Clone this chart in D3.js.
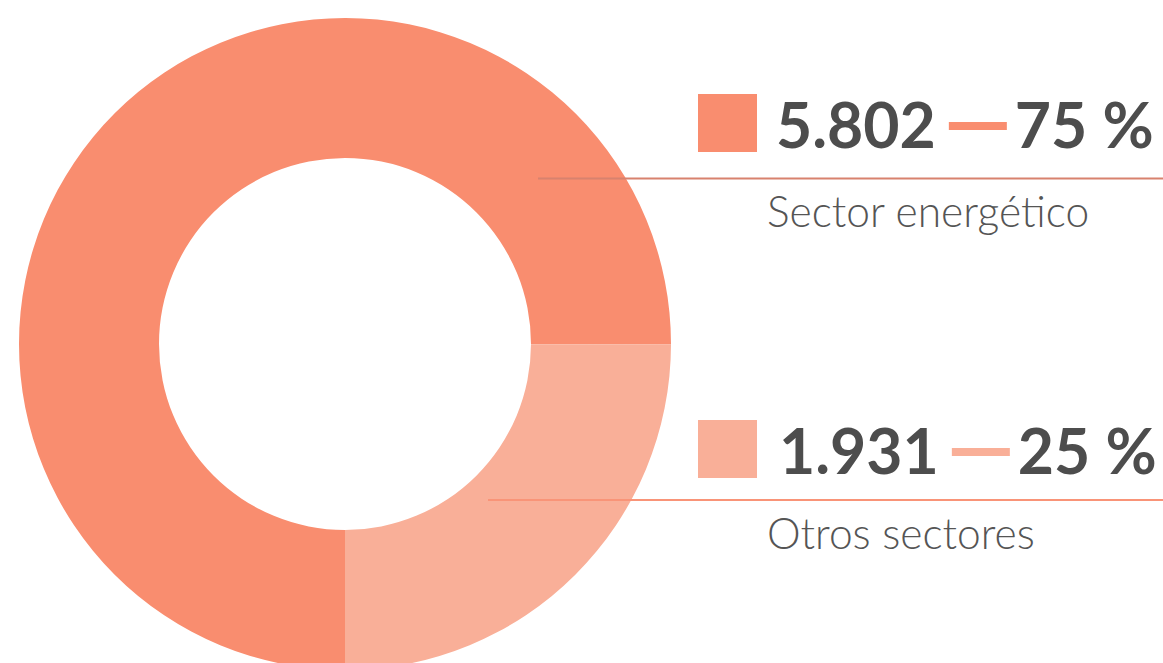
<!DOCTYPE html>
<html>
<head>
<meta charset="utf-8">
<script src="https://cdn.jsdelivr.net/npm/d3@7"></script>
<style>
  html, body { margin: 0; padding: 0; background: #fff; }
  svg { display: block; }
</style>
</head>
<body>
<svg id="chart" width="1163" height="663"></svg>
<script>
// Emisiones por sector
const categories = ["Sector energético", "Otros sectores"];
const values = [5802, 1931];
const valueLabels = ["5.802", "1.931"];
const percentLabels = ["75 %", "25 %"];
const colors = ["#F98D6F", "#F9AF98"];
const ruleColors = ["#D8826E", "#F99478"];

const svg = d3.select("#chart");
const W = 1163, H = 663;
const cx = 345, cy = 344;
const outerR = 326, innerR = 186;

// Donut: first slice starts at six o'clock and runs clockwise
const pie = d3.pie()
  .sort(null)
  .startAngle(Math.PI)
  .endAngle(3 * Math.PI)
  .value(d => d);

const arc = d3.arc().innerRadius(innerR).outerRadius(outerR);

const g = svg.append("g").attr("transform", `translate(${cx},${cy})`);
g.selectAll("path")
  .data(pie(values))
  .join("path")
  .attr("d", arc)
  .attr("fill", (d, i) => colors[i]);

// Legend blocks on the right
const legendY = [94, 420];     // top of colour square
const valueX = [776, 779];
const ruleY = [178.5, 500];
const ruleX0 = [538, 488];
const valueFont = 62.5;

categories.forEach((name, i) => {
  const top = legendY[i];
  const lg = svg.append("g");

  lg.append("rect")
    .attr("x", 698).attr("y", top)
    .attr("width", 59).attr("height", 58)
    .attr("fill", colors[i]);

  const val = lg.append("text")
    .attr("x", valueX[i]).attr("y", top + 54)
    .attr("font-family", "Lato, 'Open Sans', sans-serif")
    .attr("font-weight", 700)
    .attr("font-size", valueFont)
    .attr("fill", "#4d4d4d")
    .text(valueLabels[i]);

  const vEnd = valueX[i] + val.node().getComputedTextLength();

  lg.append("rect")
    .attr("x", vEnd + 13).attr("y", top + 28)
    .attr("width", 58).attr("height", 8)
    .attr("fill", colors[i]);

  lg.append("text")
    .attr("x", vEnd + 79).attr("y", top + 54)
    .attr("font-family", "Lato, 'Open Sans', sans-serif")
    .attr("font-weight", 700)
    .attr("font-size", valueFont)
    .attr("fill", "#4d4d4d")
    .text(percentLabels[i]);

  lg.append("line")
    .attr("x1", ruleX0[i]).attr("x2", W)
    .attr("y1", ruleY[i]).attr("y2", ruleY[i])
    .attr("stroke", ruleColors[i])
    .attr("stroke-width", 2);

  lg.append("text")
    .attr("x", 767).attr("y", ruleY[i] + 48.5)
    .attr("font-family", "Lato, 'Open Sans', sans-serif")
    .attr("font-weight", 300)
    .attr("font-size", 42.5)
    .attr("fill", "#555555")
    .text(name);
});
</script>
</body>
</html>
